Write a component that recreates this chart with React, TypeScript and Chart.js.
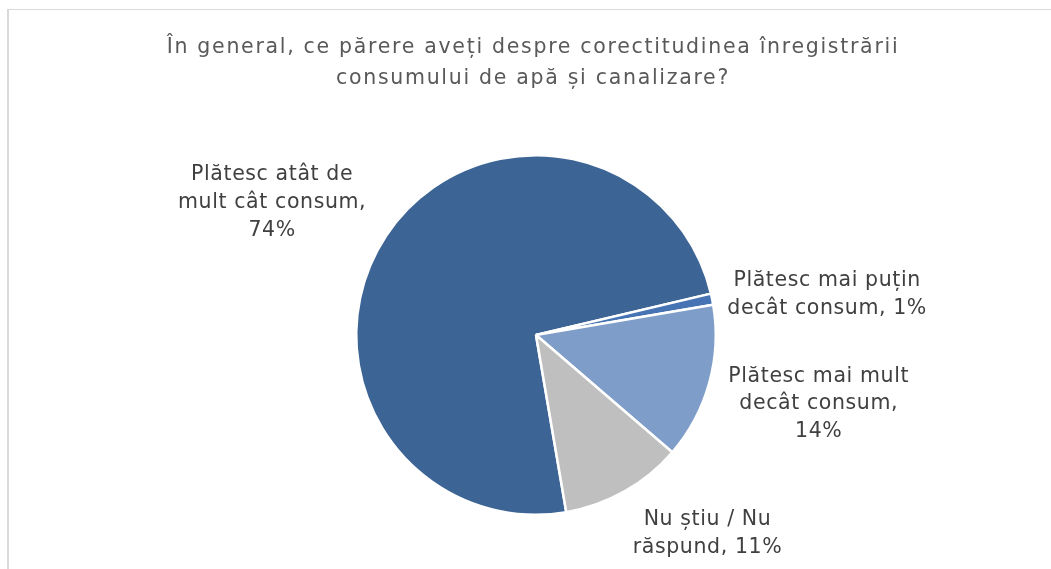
import React, { useEffect, useRef } from "react";
import { Chart, registerables } from "chart.js";

Chart.register(...registerables);

const titleLines = [
  "În general, ce părere aveți despre corectitudinea înregistrării",
  "consumului de apă și canalizare?",
];
const categories = [
  "Plătesc atât de mult cât consum",
  "Plătesc mai puțin decât consum",
  "Plătesc mai mult decât consum",
  "Nu știu / Nu răspund",
];
const values = [74, 1, 14, 11];
const colors = ["#3C6495", "#4673B3", "#7F9DC9", "#BFBFBF"];

const FONT_FAMILY = "'DejaVu Sans', sans-serif";
const FONT_SIZE = 20.5;
const TITLE_LETTER_SPACING = "1.7px";
const LABEL_LETTER_SPACING = "0.6px";
const labelWrapWidths = [200, 215, 192, 170];
const labelOffsets: [number, number][] = [
  [-114, -33],
  [115, -4.5],
  [109.5, 21],
  [83, 42],
];

function wrap(ctx: CanvasRenderingContext2D, text: string, maxW: number): string[] {
  const words = text.split(" ");
  const lines: string[] = [];
  let cur = "";
  for (const w of words) {
    const test = cur ? cur + " " + w : w;
    if (cur && ctx.measureText(test).width > maxW) {
      lines.push(cur);
      cur = w;
    } else cur = test;
  }
  if (cur) lines.push(cur);
  return lines;
}

const framePlugin = {
  id: "frame",
  beforeDraw(chart: any) {
    const ctx = chart.ctx as CanvasRenderingContext2D;
    ctx.save();
    ctx.fillStyle = "#FFFFFF";
    ctx.fillRect(0, 0, chart.width, chart.height);
    ctx.fillStyle = "#D9D9D9";
    ctx.fillRect(7, 9, 2, chart.height);
    ctx.fillRect(7, 9, chart.width, 1);
    ctx.fillStyle = "#595959";
    ctx.font = `${FONT_SIZE}px ${FONT_FAMILY}`;
    (ctx as any).letterSpacing = TITLE_LETTER_SPACING;
    ctx.textAlign = "center";
    ctx.textBaseline = "alphabetic";
    titleLines.forEach((l, i) => ctx.fillText(l, 533, 53 + i * 31));
    ctx.restore();
  },
};

const labelPlugin = {
  id: "pieLabels",
  afterDatasetsDraw(chart: any) {
    const ctx = chart.ctx as CanvasRenderingContext2D;
    const meta = chart.getDatasetMeta(0);
    ctx.save();
    ctx.fillStyle = "#404040";
    ctx.font = `${FONT_SIZE}px ${FONT_FAMILY}`;
    (ctx as any).letterSpacing = LABEL_LETTER_SPACING;
    ctx.textAlign = "center";
    ctx.textBaseline = "middle";
    meta.data.forEach((arc: any, i: number) => {
      const { x, y, startAngle, endAngle, outerRadius } = arc.getProps(
        ["x", "y", "startAngle", "endAngle", "outerRadius"],
        true
      );
      const mid = (startAngle + endAngle) / 2;
      const px = x + Math.cos(mid) * outerRadius;
      const py = y + Math.sin(mid) * outerRadius;
      const cx = px + labelOffsets[i][0];
      const cy = py + labelOffsets[i][1];
      const text = `${categories[i]}, ${values[i]}%`;
      const lines = wrap(ctx, text, labelWrapWidths[i]);
      const lh = 27.8;
      const top = cy - ((lines.length - 1) * lh) / 2;
      lines.forEach((l, k) => ctx.fillText(l, cx, top + k * lh));
    });
    ctx.restore();
  },
};

export default function App() {
  const ref = useRef<HTMLCanvasElement>(null);
  useEffect(() => {
    if (!ref.current) return;
    const chart = new Chart(ref.current, {
      type: "pie",
      data: {
        labels: categories,
        datasets: [
          {
            data: values,
            backgroundColor: colors,
            borderColor: "#FFFFFF",
            borderWidth: 2.5,
            hoverOffset: 0,
            offset: 0,
          },
        ],
      },
      options: {
        responsive: false,
        animation: false,
        rotation: 170.3,
        layout: { padding: { top: 154, bottom: 53, left: 300, right: 279 } },
        plugins: {
          legend: { display: false },
          title: { display: false },
          tooltip: { enabled: false },
        },
        events: [],
      },
      plugins: [framePlugin, labelPlugin],
    });
    return () => chart.destroy();
  }, []);
  return (
    <div style={{ position: "fixed", left: 0, top: 0, width: 1051, height: 569 }}>
      <canvas ref={ref} width={1051} height={569} style={{ display: "block" }} />
    </div>
  );
}
